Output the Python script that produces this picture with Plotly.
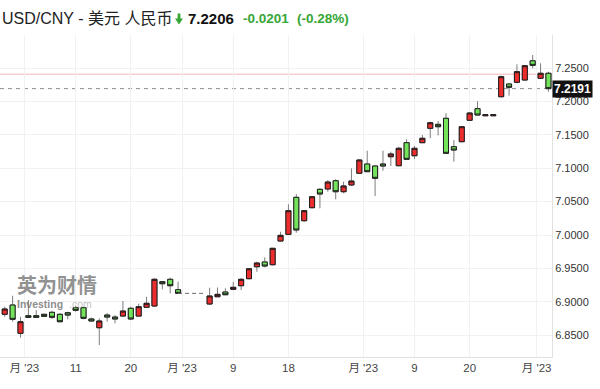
import plotly.graph_objects as go

# ---------------- data ----------------
# session slots (daily, trading days); slots 23-25 = holiday with no quotes
slots = list(range(70))
holiday_slots = [23, 24, 25]

open_ = [6.8813, 6.8952, 6.8528, 6.8792, 6.8792, 6.8813, 6.8843, 6.8813, 6.8837, 6.8912,
         6.8912, 6.8743, 6.8612, 6.8802, 6.8772, 6.8787, 6.8903, 6.8787, 6.8918, 6.8937,
         6.9301, 6.9337, 6.9181, None, None, None, 6.8967, 6.9076, 6.9147, 6.9187,
         6.9241, 6.9346, 6.9525, 6.9596, 6.9555, 6.9910, 7.0010, 7.0564, 7.0214, 7.0409,
         7.0684, 7.0689, 7.0813, 7.0648, 7.0749, 7.0924, 7.1063, 7.1033, 7.1063, 7.1172,
         7.1037, 7.1382, 7.1187, 7.1382, 7.1597, 7.1657, 7.1747, 7.1322, 7.1397, 7.1717,
         7.1891, 7.1785, 7.1785, 7.2070, 7.2260, 7.2286, 7.2320, 7.2608, 7.2346, 7.2421]
high = [6.8927, 6.9091, 6.8777, 6.9027, 6.8877, 6.8820, 6.8867, 6.8828, 6.8852, 6.8942,
        6.8927, 6.8762, 6.8753, 6.8832, 6.8802, 6.9012, 6.8927, 6.8972, 6.9076, 6.9352,
        6.9305, 6.9361, 6.9301, None, None, None, 6.9211, 6.9214, 6.9202, 6.9301,
        6.9352, 6.9501, 6.9600, 6.9666, 6.9805, 7.0049, 7.0460, 7.0614, 7.0374, 7.0584,
        7.0699, 7.0823, 7.0834, 7.0798, 7.0998, 7.1133, 7.1262, 7.1036, 7.1262, 7.1247,
        7.1322, 7.1433, 7.1332, 7.1497, 7.1696, 7.1707, 7.1822, 7.1422, 7.1632, 7.1841,
        7.2001, 7.1800, 7.1800, 7.2385, 7.2271, 7.2555, 7.2545, 7.2695, 7.2570, 7.2445]
low = [6.8777, 6.8702, 6.8463, 6.8765, 6.8765, 6.8778, 6.8743, 6.8693, 6.8738, 6.8852,
       6.8738, 6.8702, 6.8353, 6.8702, 6.8678, 6.8777, 6.8728, 6.8777, 6.8915, 6.8927,
       6.9187, 6.9127, 6.9125, None, None, None, 6.8952, 6.9074, 6.9104, 6.9185,
       6.9177, 6.9337, 6.9451, 6.9516, 6.9546, 6.9900, 7.0000, 7.0034, 7.0199, 7.0400,
       7.0400, 7.0648, 7.0534, 7.0624, 7.0734, 7.0913, 7.0945, 7.0584, 7.0963, 7.1033,
       7.1033, 7.1123, 7.1138, 7.1380, 7.1448, 7.1490, 7.1213, 7.1097, 7.1388, 7.1707,
       7.1793, 7.1785, 7.1785, 7.2061, 7.2085, 7.2271, 7.2310, 7.2496, 7.2335, 7.2145]
close = [6.8892, 6.8738, 6.8702, 6.8768, 6.8768, 6.8783, 6.8768, 6.8702, 6.8802, 6.8873,
         6.8753, 6.8713, 6.8713, 6.8772, 6.8743, 6.8862, 6.8743, 6.8927, 6.8978, 6.9337,
         6.9271, 6.9241, 6.9127, None, None, None, 6.9087, 6.9112, 6.9106, 6.9217,
         6.9337, 6.9495, 6.9581, 6.9536, 6.9801, 6.9995, 7.0364, 7.0075, 7.0364, 7.0573,
         7.0614, 7.0793, 7.0648, 7.0734, 7.0808, 7.1123, 7.0948, 7.0849, 7.1033, 7.1213,
         7.1298, 7.1133, 7.1298, 7.1448, 7.1681, 7.1621, 7.1223, 7.1272, 7.1621, 7.1826,
         7.1796, 7.1800, 7.1800, 7.2370, 7.2211, 7.2445, 7.2534, 7.2540, 7.2421, 7.2191]

tick_pos = [2.5, 9, 16, 22.5, 29, 36, 45.5, 52, 59, 67.5]
tick_text = ["月 '23", "11", "20", "月 '23", "9", "18", "月 '23", "9", "20", "月 '23"]
y_ticks = [6.85, 6.90, 6.95, 7.00, 7.05, 7.10, 7.15, 7.20, 7.25]

last_price = 7.2191
prev_close = 7.2407
title_text = "USD/CNY - 美元 人民币"
header_price = "7.2206"
header_change = "-0.0201"
header_pct = "(-0.28%)"

# ---------------- style ----------------
RED = "#ec2d2d"
GREEN = "#74e35c"
WICK = "#7d7d7d"
EDGE = "#1c1c1c"
TXT_GREEN = "#36a636"
FONT = "Liberation Sans, Arial, Noto Sans CJK SC, sans-serif"

PLOT_W, PLOT_TOP, PLOT_BOTTOM = 552, 35, 357


def px(x):
    return x / PLOT_W


def py(y):
    return (PLOT_BOTTOM - y) / (PLOT_BOTTOM - PLOT_TOP)


body_hi = [max(o, c) if o is not None else None for o, c in zip(open_, close)]
body_lo = [min(o, c) if o is not None else None for o, c in zip(open_, close)]

fig = go.Figure()

# holiday gap: dashed line at last close before the gap
gap_prev = holiday_slots[0] - 1
hx = [gap_prev] + holiday_slots + [holiday_slots[-1] + 0.5]
hy = [close[gap_prev]] * len(hx)
fig.add_trace(go.Scatter(x=hx, y=hy, mode="lines",
                         line=dict(color="#6a6a6a", width=1, dash="4px,3px"),
                         hoverinfo="skip"))

# wicks (grey)
fig.add_trace(go.Candlestick(
    x=slots, open=open_, high=high, low=low, close=close,
    increasing=dict(line=dict(color=WICK, width=1), fillcolor=RED),
    decreasing=dict(line=dict(color=WICK, width=1), fillcolor=GREEN),
    hoverinfo="skip"))
# bodies (dark outline)
fig.add_trace(go.Candlestick(
    x=slots, open=open_, high=body_hi, low=body_lo, close=close,
    increasing=dict(line=dict(color=EDGE, width=1), fillcolor=RED),
    decreasing=dict(line=dict(color=EDGE, width=1), fillcolor=GREEN)))

fig.update_layout(
    width=600, height=389,
    margin=dict(l=0, r=600 - PLOT_W, t=PLOT_TOP, b=389 - PLOT_BOTTOM),
    paper_bgcolor="white", plot_bgcolor="white",
    showlegend=False,
    boxgap=0.2, boxgroupgap=0.2,
    font=dict(family=FONT, color="#333"),
    xaxis=dict(range=[-0.6, 69.45], tickmode="array", tickvals=tick_pos, ticktext=tick_text,
               showgrid=True, gridcolor="#f1f1f1", gridwidth=1,
               showline=True, linecolor="#e2e2e2", linewidth=1,
               zeroline=False, ticks="", rangeslider=dict(visible=False),
               tickfont=dict(size=11.5, color="#444", family=FONT)),
    yaxis=dict(side="right", range=[6.8174, 7.2994], tickmode="array", tickvals=y_ticks,
               tickformat=".4f", showgrid=True, gridcolor="#f1f1f1", gridwidth=1,
               showline=True, linecolor="#e2e2e2", linewidth=1,
               zeroline=False, ticks="",
               tickfont=dict(size=11, color="#333", family=FONT)),
)

# previous close (pink) and last price (dashed)
fig.add_shape(type="line", xref="paper", x0=0, x1=1, yref="y", y0=prev_close, y1=prev_close,
              line=dict(color="#f4b4b4", width=1), layer="between")
fig.add_shape(type="line", xref="paper", x0=0, x1=1, yref="y", y0=last_price, y1=last_price,
              line=dict(color="#8e8e8e", width=1, dash="4px,4px"), layer="between")

# last price tag
fig.add_annotation(xref="paper", x=1, yref="y", y=last_price, xanchor="left", yanchor="middle",
                   text="<b>%.4f</b>" % last_price, showarrow=False,
                   font=dict(size=12, color="white", family=FONT),
                   bgcolor="#111111", borderpad=1)

# header
fig.add_annotation(xref="paper", yref="paper", x=px(0), y=py(19), xanchor="left", yanchor="middle",
                   text=title_text, showarrow=False,
                   font=dict(size=16, color="#222", family=FONT))
fig.add_shape(type="path", xref="paper", yref="paper",
              path="M %f %f L %f %f L %f %f L %f %f L %f %f L %f %f L %f %f Z" % (
                  px(177.6), py(13.5), px(180.4), py(13.5), px(180.4), py(18.5),
                  px(183), py(18.5), px(179), py(24.5), px(175), py(18.5), px(177.6), py(18.5)),
              fillcolor=TXT_GREEN, line=dict(width=0))
fig.add_annotation(xref="paper", yref="paper", x=px(186), y=py(19), xanchor="left", yanchor="middle",
                   text="<b>%s</b>" % header_price, showarrow=False,
                   font=dict(size=15, color="#111", family=FONT))
fig.add_annotation(xref="paper", yref="paper", x=px(241), y=py(19), xanchor="left", yanchor="middle",
                   text="<b>%s</b>" % header_change, showarrow=False,
                   font=dict(size=13.5, color=TXT_GREEN, family=FONT))
fig.add_annotation(xref="paper", yref="paper", x=px(295), y=py(19), xanchor="left", yanchor="middle",
                   text="<b>%s</b>" % header_pct, showarrow=False,
                   font=dict(size=13.5, color=TXT_GREEN, family=FONT))

# watermark
fig.add_annotation(xref="paper", yref="paper", x=px(15), y=py(284.5), xanchor="left", yanchor="middle",
                   text="<b>英为财情</b>", showarrow=False,
                   font=dict(size=20, color="rgba(110,110,110,0.75)", family="Noto Sans CJK SC"))
fig.add_annotation(xref="paper", yref="paper", x=px(15), y=py(304), xanchor="left", yanchor="middle",
                   text="<b>Investing</b>", showarrow=False,
                   font=dict(size=10.5, color="rgba(110,110,110,0.8)", family=FONT))
fig.add_annotation(xref="paper", yref="paper", x=px(67), y=py(304), xanchor="left", yanchor="middle",
                   text=".com", showarrow=False,
                   font=dict(size=10.5, color="rgba(150,150,150,0.6)", family=FONT))

fig.write_html("out.html", config={"displayModeBar": False},
               post_script="document.body.style.margin='0';")
